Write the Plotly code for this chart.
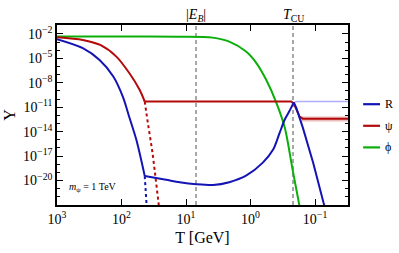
import numpy as np
import plotly.graph_objects as go

# ---- data (log10 values) ----
phi_logT = [3.0, 2.0, 1.1, 0.59, 0.33, 0.07, -0.09, -0.24, -0.40, -0.53, -0.65, -0.76]
phi_logY = [-2.3, -2.3, -2.33, -2.45, -2.94, -4.16, -5.57, -7.6, -10.45, -13.5, -18.6, -23.2]

psi_curve_logT = [3.0, 2.6, 2.33, 2.08, 1.88, 1.72, 1.64]
psi_curve_logY = [-2.4, -2.73, -3.35, -4.78, -6.8, -8.85, -10.3]
psi_rest_logT = [1.64, -0.63, -0.67, -0.71, -0.76, -0.81, -1.51]
psi_rest_logY = [-10.3, -10.3, -10.55, -11.3, -12.15, -12.4, -12.4]
psi_dot_logT = [1.64, 1.60, 1.52, 1.42]
psi_dot_logY = [-10.3, -12.5, -16.6, -23.2]
psi_band_logT = [-0.79, -1.51]
psi_band_logY = [-12.45, -12.45]

R_curve_logT = [3.0, 2.6, 2.34, 2.13, 1.98, 1.88, 1.77, 1.64]
R_curve_logY = [-2.65, -3.75, -5.2, -7.2, -9.7, -12.2, -15.0, -19.45]
R_mid_logT = [1.64, 1.31, 1.10, 0.84, 0.58, 0.33, 0.07, -0.19, -0.35, -0.45, -0.53, -0.60, -0.67]
R_mid_logY = [-19.45, -19.9, -20.2, -20.45, -20.55, -20.2, -19.4, -17.8, -16.2, -14.15, -12.5, -11.5, -10.4]
R_fall_logT = [-0.67, -0.71, -0.81, -0.97, -1.13, -1.16]
R_fall_logY = [-10.4, -11.1, -13.5, -17.8, -22.7, -23.5]
R_dot_logT = [1.64, 1.61]
R_dot_logY = [-19.45, -23.2]
R_light_logT = [-0.67, -0.72, -1.51]
R_light_logY = [-10.4, -10.3, -10.3]

E_B = 7.0
T_CU = 0.22
y_lo, y_hi = -23.0, -0.9

series_names = ["R", "\u03c8", "\u03d5"]
series_colors = ["rgb(20,20,180)", "rgb(180,10,10)", "rgb(10,175,10)"]
BLUE, RED, GREEN = series_colors

x_tick_exp = [3, 2, 1, 0, -1]
y_tick_exp = [-2, -5, -8, -11, -14, -17, -20]

FONT = "Liberation Serif, Times New Roman, serif"


def P(a):
    return [10.0 ** v for v in a]


fig = go.Figure()


def add(lt, ly, color, width=2.0, dash="solid", shape="linear", smooth=1.0):
    fig.add_trace(go.Scatter(x=P(lt), y=P(ly), mode="lines",
                             line=dict(color=color, width=width, dash=dash,
                                       shape=shape, smoothing=smooth),
                             showlegend=False, hoverinfo="skip"))


# gray dashed reference lines
for tv in [E_B, T_CU]:
    fig.add_trace(go.Scatter(x=[tv, tv], y=[10 ** y_lo, 10 ** y_hi], mode="lines",
                             line=dict(color="rgb(140,140,140)", width=1.5, dash="4px,3px"),
                             showlegend=False, hoverinfo="skip"))

# light background lines
add(psi_band_logT, psi_band_logY, "rgba(200,60,60,0.35)", width=5)
add(R_light_logT, R_light_logY, "rgba(110,110,240,0.55)", width=1.5)

# green
add(phi_logT, phi_logY, GREEN, shape="spline", smooth=0.8)
# red
add(psi_curve_logT, psi_curve_logY, RED, shape="spline", smooth=0.8)
add(psi_rest_logT, psi_rest_logY, RED)
add(psi_dot_logT, psi_dot_logY, RED, dash="dot", shape="spline", smooth=0.6)
# blue
add(R_curve_logT, R_curve_logY, BLUE, shape="spline", smooth=0.8)
add(R_mid_logT, R_mid_logY, BLUE, shape="spline", smooth=0.8)
add(R_fall_logT, R_fall_logY, BLUE)
add(R_dot_logT, R_dot_logY, BLUE, dash="dot")


def sup(e):
    s = str(e).replace("-", "\u2212")
    return "10<sup>" + s + "</sup>"


axis_common = dict(type="log", showgrid=False, zeroline=False, showline=True,
                   linecolor="black", linewidth=1.5, mirror="allticks",
                   ticks="inside", ticklen=6, tickwidth=1.3, tickcolor="black",
                   automargin=False,
                   tickfont=dict(family=FONT, size=14, color="black"))

fig.update_layout(
    width=399, height=253,
    margin=dict(l=57, r=51, t=25, b=48, autoexpand=False),
    paper_bgcolor="white", plot_bgcolor="white",
    font=dict(family=FONT, color="black"),
    xaxis=dict(axis_common, range=[3, -1.51],
               tickvals=[10.0 ** e for e in x_tick_exp],
               ticktext=[sup(e) for e in x_tick_exp],
               title=dict(text="T [GeV]", font=dict(family=FONT, size=16), standoff=6)),
    yaxis=dict(axis_common, range=[y_lo, y_hi],
               tickvals=[10.0 ** e for e in y_tick_exp],
               ticktext=[sup(e) for e in y_tick_exp],
               minor=dict(tickvals=[10.0 ** e for e in range(-23, 0)],
                          ticks="inside", ticklen=3, tickcolor="black", tickwidth=1),
               title=dict(text="Y", font=dict(family=FONT, size=16), standoff=4)),
)

# labels above dashed lines
fig.add_annotation(x=np.log10(E_B), y=1.0, xref="x", yref="paper", yanchor="bottom",
                   text="|<i>E</i><sub><i>B</i></sub>|", showarrow=False,
                   font=dict(family=FONT, size=14), yshift=-1)
fig.add_annotation(x=np.log10(T_CU), y=1.0, xref="x", yref="paper", yanchor="bottom",
                   text="<i>T</i><sub>CU</sub>", showarrow=False,
                   font=dict(family=FONT, size=14), yshift=-1)

# mass label
fig.add_annotation(x=0.035, y=0.1, xref="paper", yref="paper", xanchor="left",
                   yanchor="middle", text="<i>m</i><sub>\u03c8</sub> = 1 TeV",
                   showarrow=False, font=dict(family=FONT, size=10))

# manual legend
leg_y = [0.56, 0.44, 0.32]
for name, col, yy in zip(series_names, series_colors, leg_y):
    fig.add_shape(type="line", xref="paper", yref="paper", x0=1.052, x1=1.11,
                  y0=yy, y1=yy, line=dict(color=col, width=2.2))
    fig.add_annotation(x=1.12, y=yy, xref="paper", yref="paper", xanchor="left",
                       yanchor="middle", text=name, showarrow=False,
                       font=dict(family=FONT, size=12))

fig.write_html("out.html", post_script="document.body.style.margin='0';",
               config={"displayModeBar": False})
